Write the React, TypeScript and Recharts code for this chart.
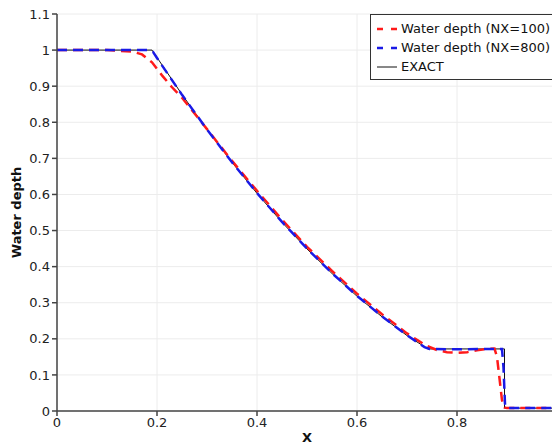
import React from 'react'
import {
  LineChart,
  Line,
  XAxis,
  YAxis,
  CartesianGrid,
  Legend,
  Label,
} from 'recharts'

// exact solution of the dam break
const EXACT_X = [0, 0.19, 0.25, 0.3, 0.35, 0.4, 0.45, 0.5, 0.55, 0.6, 0.65, 0.7, 0.742, 0.895, 0.895, 1.0]
const EXACT_H = [1, 1, 0.877, 0.78, 0.689, 0.603, 0.523, 0.449, 0.381, 0.318, 0.261, 0.209, 0.172, 0.172, 0.008, 0.008]

// NX=100, smeared corners and shock
const NX100_X = [0, 0.1, 0.15, 0.17, 0.19, 0.21, 0.23, 0.25, 0.3, 0.35, 0.4, 0.45, 0.5, 0.55, 0.6, 0.65, 0.7, 0.72, 0.74, 0.76, 0.78, 0.8, 0.82, 0.84, 0.86, 0.875, 0.88, 0.885, 0.89, 0.895, 0.9, 1.0]
const NX100_H = [1, 1, 0.996, 0.988, 0.966, 0.93, 0.897, 0.868, 0.781, 0.693, 0.61, 0.53, 0.455, 0.388, 0.325, 0.268, 0.215, 0.197, 0.18, 0.169, 0.163, 0.161, 0.163, 0.168, 0.172, 0.173, 0.15, 0.09, 0.03, 0.01, 0.008, 0.008]

// NX=800, close to exact
const NX800_X = [0, 0.185, 0.192, 0.2, 0.25, 0.3, 0.35, 0.4, 0.45, 0.5, 0.55, 0.6, 0.65, 0.7, 0.735, 0.745, 0.8, 0.89, 0.893, 0.896, 0.9, 1.0]
const NX800_H = [1, 1, 0.995, 0.978, 0.876, 0.78, 0.689, 0.604, 0.524, 0.45, 0.382, 0.319, 0.262, 0.21, 0.177, 0.172, 0.171, 0.172, 0.12, 0.02, 0.008, 0.008]

const X_TICKS = [0, 0.2, 0.4, 0.6, 0.8]
const Y_TICKS = [0, 0.1, 0.2, 0.3, 0.4, 0.5, 0.6, 0.7, 0.8, 0.9, 1, 1.1]

const toPoints = (xs: number[], hs: number[]) => xs.map((x, i) => ({ x, h: hs[i] }))

const FONT = '"DejaVu Sans", sans-serif'
const AXIS_COLOR = '#444'

const LEGEND_ITEMS = [
  { label: 'Water depth (NX=100)', color: '#ff1a1a', dash: '6 8', width: 2.5 },
  { label: 'Water depth (NX=800)', color: '#1a1ae6', dash: '6 8', width: 2.5 },
  { label: 'EXACT', color: '#111', dash: undefined, width: 1 },
]

function renderLegend() {
  return (
    <div
      style={{
        border: '1px solid #333',
        background: '#fff',
        padding: '4px 6px 3px 5px',
        fontFamily: FONT,
        fontSize: 13,
        color: '#111',
        width: 220,
      }}
    >
      {LEGEND_ITEMS.map(item => (
        <div key={item.label} style={{ display: 'flex', alignItems: 'center', height: 19 }}>
          <svg width={22} height={10} style={{ marginRight: 3 }}>
            <line
              x1={1}
              x2={21}
              y1={5}
              y2={5}
              stroke={item.color}
              strokeWidth={item.width}
              strokeDasharray={item.dash}
            />
          </svg>
          <span style={{ whiteSpace: 'nowrap' }}>{item.label}</span>
        </div>
      ))}
    </div>
  )
}

export default function App() {
  return (
    <div style={{ position: 'fixed', left: 0, top: 0, width: 552, height: 445, overflow: 'hidden', background: '#fff' }}>
      <LineChart
        width={570}
        height={445}
        margin={{ top: 14, right: 13, left: 0, bottom: 0 }}
      >
        <CartesianGrid stroke="#ececec" />
        <XAxis
          type="number"
          dataKey="x"
          domain={[0, 1]}
          ticks={X_TICKS}
          height={34}
          stroke={AXIS_COLOR}
          strokeWidth={1.5}
          tickSize={5}
          tick={{ fontSize: 13, fill: '#222', fontFamily: FONT }}
          allowDataOverflow
        >
          <Label
            value="X"
            position="insideBottom"
            offset={3}
            style={{ fontSize: 13, fontWeight: 'bold', fill: '#111', fontFamily: FONT }}
          />
        </XAxis>
        <YAxis
          type="number"
          dataKey="h"
          domain={[0, 1.1]}
          ticks={Y_TICKS}
          width={57}
          stroke={AXIS_COLOR}
          strokeWidth={1.5}
          tickSize={5}
          tick={{ fontSize: 13, fill: '#222', fontFamily: FONT }}
          allowDataOverflow
        >
          <Label
            value="Water depth"
            angle={-90}
            position="insideLeft"
            offset={16}
            style={{ fontSize: 13, fontWeight: 'bold', fill: '#111', fontFamily: FONT, textAnchor: 'middle' }}
          />
        </YAxis>
        <Legend
          content={renderLegend}
          layout="vertical"
          align="center"
          verticalAlign="middle"
          wrapperStyle={{ left: 370, top: 14, width: 230 }}
        />
        <Line
          data={toPoints(EXACT_X, EXACT_H)}
          dataKey="h"
          type="linear"
          stroke="#111"
          strokeWidth={1}
          dot={false}
          isAnimationActive={false}
        />
        <Line
          data={toPoints(NX100_X, NX100_H)}
          dataKey="h"
          type="linear"
          stroke="#ff1a1a"
          strokeWidth={2.5}
          strokeDasharray="10 6"
          dot={false}
          isAnimationActive={false}
        />
        <Line
          data={toPoints(NX800_X, NX800_H)}
          dataKey="h"
          type="linear"
          stroke="#1a1ae6"
          strokeWidth={2.5}
          strokeDasharray="10 6"
          dot={false}
          isAnimationActive={false}
        />
      </LineChart>
    </div>
  )
}
